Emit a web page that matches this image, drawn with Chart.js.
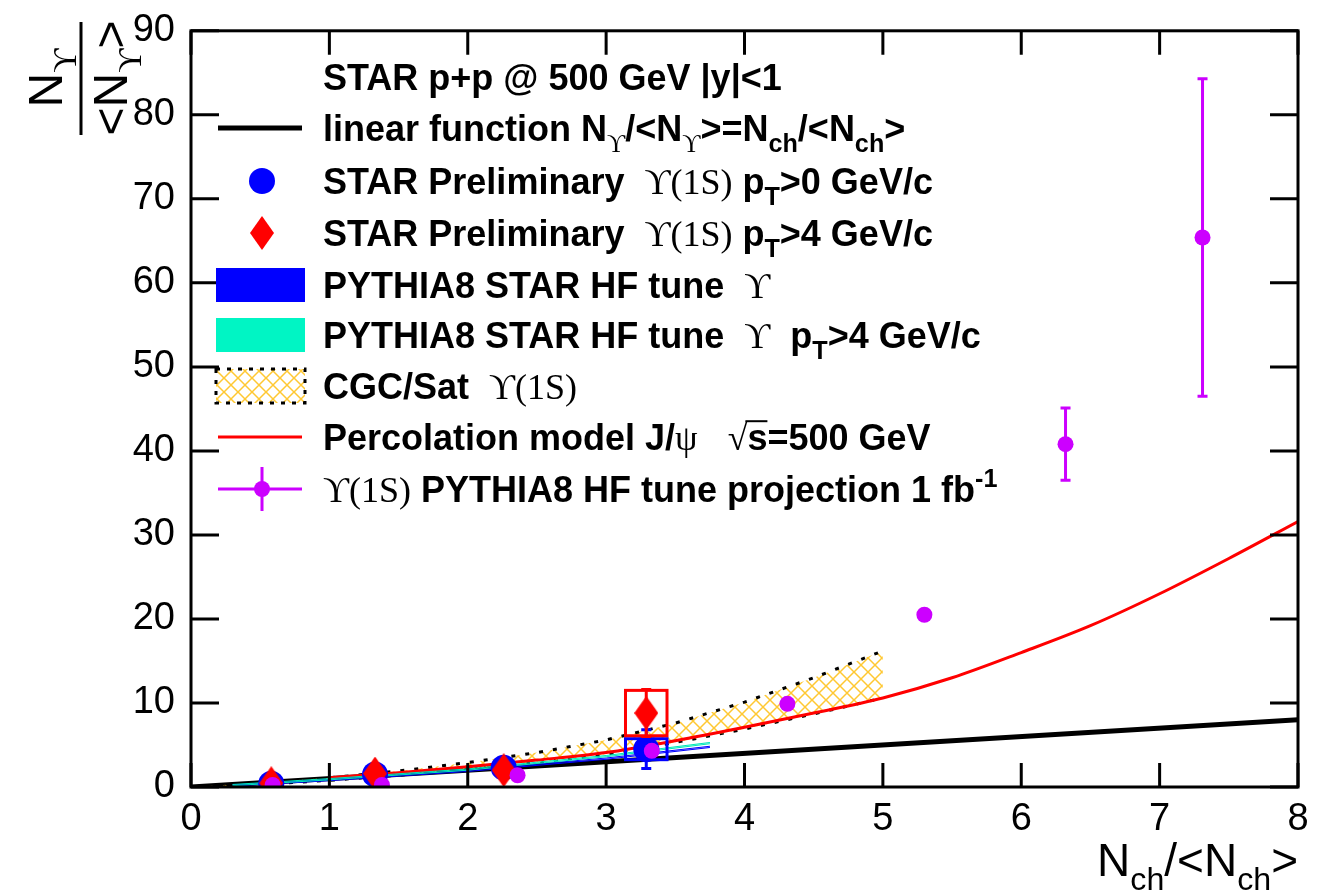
<!DOCTYPE html>
<html>
<head>
<meta charset="utf-8">
<script src="https://cdn.jsdelivr.net/npm/chart.js@4.4.0/dist/chart.umd.min.js"></script>
<style>
  html, body { margin: 0; background: #ffffff; }
  canvas { display: block; }
</style>
</head>
<body>
<canvas id="chart" width="1328" height="895"></canvas>
<script>
// axis ticks
const xTickValues = [0, 1, 2, 3, 4, 5, 6, 7, 8];
const yTickValues = [0, 10, 20, 30, 40, 50, 60, 70, 80, 90];

// linear function N/<N> = Nch/<Nch>
const linearX = [0, 8];
const linearY = [0, 8];

// CGC/Sat band
const cgcX = [0, 0.5, 1, 1.5, 2, 2.5, 3, 3.5, 4, 4.5, 5];
const cgcHigh = [0, 0.5, 1.1, 1.9, 2.9, 4.1, 5.6, 7.6, 10.1, 13.0, 16.2];
const cgcLow = [0, 0.3, 0.8, 1.4, 2.1, 2.9, 3.9, 5.3, 6.9, 8.7, 10.6];

// Percolation model
const percX = [1, 1.5, 2, 2.5, 3, 3.5, 4, 4.5, 5, 5.5, 6, 6.5, 7, 7.5, 8];
const percY = [1.1, 1.7, 2.4, 3.2, 4.1, 5.5, 7.1, 8.8, 10.6, 13.0, 16.0, 19.2, 23.0, 27.2, 31.6];

// PYTHIA8 bands
const pyX = [0.3, 1, 2, 3, 3.75];
const pyBlueHi = [0.25, 0.9, 2.0, 3.45, 4.85];
const pyBlueLo = [0.1, 0.75, 1.85, 3.3, 4.7];
const pyCyanHi = [0.3, 1.0, 2.15, 3.75, 5.3];
const pyCyanLo = [0.15, 0.85, 2.0, 3.6, 5.15];

// STAR preliminary data
const starX = [0.58, 1.33, 2.26, 3.29];
const blueY = [0.4, 1.5, 2.3, 4.5];
const blueErr = [0.2, 0.4, 0.5, 2.3];
const blueSys = [0, 0, 0, 1.25];
const redY = [0.45, 1.6, 2.0, 8.8];
const redErr = [0.3, 0.6, 0.9, 2.8];
const redSys = [0, 0, 0, 2.7];

// projection
const projX = [0.59, 1.38, 2.36, 3.33, 4.31, 5.30, 6.32, 7.31];
const projY = [0.25, 0.25, 1.4, 4.3, 9.9, 20.5, 40.8, 65.4];
const projErr = [0, 0, 0, 0, 0, 0, 4.3, 18.9];

const SANS = "'Liberation Sans', Arial, sans-serif";
const SERIF = "'Liberation Serif', 'DejaVu Serif', serif";

function pts(xs, ys) {
    return xs.map((x, i) => ({ x: x, y: ys[i] }));
}

function makeHatch() {
    const c = document.createElement('canvas');
    c.width = 14; c.height = 14;
    const g = c.getContext('2d');
    g.strokeStyle = '#ffc832';
    g.lineWidth = 1.5;
    g.beginPath();
    g.moveTo(0, 0); g.lineTo(14, 14);
    g.moveTo(14, 0); g.lineTo(0, 14);
    g.stroke();
    return g.createPattern(c, 'repeat');
}

function makeDiamond(w, h, color) {
    const c = document.createElement('canvas');
    c.width = w; c.height = h;
    const g = c.getContext('2d');
    g.fillStyle = color;
    g.beginPath();
    g.moveTo(w / 2, 0); g.lineTo(w, h / 2); g.lineTo(w / 2, h); g.lineTo(0, h / 2);
    g.closePath();
    g.fill();
    return c;
}

// rich text: parts with sub / sup / symbol font
function partFont(p, size, bold) {
    const s = (p.sub || p.sup) ? size * 0.7 : size;
    const fam = p.sym ? SERIF : SANS;
    return ((bold && !p.sym) ? 'bold ' : '') + s + 'px ' + fam;
}
function richWidth(ctx, parts, size, bold) {
    let w = 0;
    parts.forEach(p => { ctx.font = partFont(p, size, bold); w += ctx.measureText(p.t).width; });
    return w;
}
function drawRich(ctx, parts, x, y, size, bold) {
    parts.forEach(p => {
        ctx.font = partFont(p, size, bold);
        const dy = p.sub ? size * 0.3 : p.sup ? -size * 0.42 : 0;
        ctx.fillText(p.t, x, y + dy);
        const w = ctx.measureText(p.t).width;
        if (p.over) {
            ctx.lineWidth = 2;
            ctx.beginPath();
            ctx.moveTo(x - 2, y - size * 0.8);
            ctx.lineTo(x + w, y - size * 0.8);
            ctx.stroke();
        }
        x += w;
    });
    return x;
}

const hatch = makeHatch();
const diamondImg = makeDiamond(24, 34, '#ff0000');

const errorConfig = {
    'STAR pT>0': { x: starX, y: blueY, err: blueErr, sys: blueSys, color: '#0000ff' },
    'STAR pT>4': { x: starX, y: redY, err: redErr, sys: redSys, color: '#ff0000' },
    'projection': { x: projX, y: projY, err: projErr, sys: null, color: '#cc00ff' }
};

// error bars and systematic boxes, drawn right before their markers
const errorBars = {
    id: 'errorBars',
    beforeDatasetDraw(chart, args) {
        const cfg = errorConfig[chart.data.datasets[args.index].label];
        if (!cfg) return;
        const xs = chart.scales.x, ys = chart.scales.y, c = chart.ctx;
        c.save();
        c.strokeStyle = cfg.color;
        c.lineWidth = 3;
        cfg.x.forEach((xv, i) => {
            if (cfg.sys && cfg.sys[i] > 0) {
                const x0 = xs.getPixelForValue(xv - 0.15), x1 = xs.getPixelForValue(xv + 0.15);
                const y0 = ys.getPixelForValue(cfg.y[i] + cfg.sys[i]), y1 = ys.getPixelForValue(cfg.y[i] - cfg.sys[i]);
                c.strokeRect(x0, y0, x1 - x0, y1 - y0);
            }
            if (cfg.err[i] > 0) {
                const px = xs.getPixelForValue(xv);
                const top = ys.getPixelForValue(cfg.y[i] + cfg.err[i]);
                const bot = ys.getPixelForValue(cfg.y[i] - cfg.err[i]);
                c.beginPath();
                c.moveTo(px, top); c.lineTo(px, bot);
                c.moveTo(px - 5, top); c.lineTo(px + 5, top);
                c.moveTo(px - 5, bot); c.lineTo(px + 5, bot);
                c.stroke();
            }
        });
        c.restore();
    }
};

// ROOT-like frame with inward ticks, titles and legend
const frame = {
    id: 'frame',
    afterDraw(chart) {
        const c = chart.ctx, a = chart.chartArea;
        const xs = chart.scales.x, ys = chart.scales.y;
        c.save();
        c.strokeStyle = '#000';
        c.lineWidth = 3;
        c.strokeRect(a.left, a.top, a.right - a.left, a.bottom - a.top);
        c.beginPath();
        xTickValues.forEach(v => {
            const p = xs.getPixelForValue(v);
            c.moveTo(p, a.bottom); c.lineTo(p, a.bottom - 24);
            c.moveTo(p, a.top); c.lineTo(p, a.top + 24);
        });
        yTickValues.forEach(v => {
            const p = ys.getPixelForValue(v);
            c.moveTo(a.left, p); c.lineTo(a.left + 28, p);
            c.moveTo(a.right, p); c.lineTo(a.right - 28, p);
        });
        c.stroke();

        c.fillStyle = '#000';
        c.textBaseline = 'alphabetic';
        // x title
        const xt = [{ t: 'N' }, { t: 'ch', sub: 1 }, { t: '/<N' }, { t: 'ch', sub: 1 }, { t: '>' }];
        const xw = richWidth(c, xt, 46, false);
        drawRich(c, xt, a.right - xw, 876, 46, false);

        // y title as a fraction
        c.save();
        c.translate(81, 78);
        c.rotate(-Math.PI / 2);
        c.lineWidth = 3;
        c.beginPath(); c.moveTo(-57, 0); c.lineTo(56, 0); c.stroke();
        const num = [{ t: 'N' }, { t: 'ϒ', sub: 1, sym: 1 }];
        const den = [{ t: '<N' }, { t: 'ϒ', sub: 1, sym: 1 }, { t: '>' }];
        drawRich(c, num, -richWidth(c, num, 48, false) / 2, -19, 48, false);
        drawRich(c, den, -richWidth(c, den, 48, false) / 2, 46, 48, false);
        c.restore();

        // legend
        const rows = [77, 128, 181, 233, 285, 335, 386, 437, 489];
        const texts = [
            [{ t: 'STAR p+p @ 500 GeV |y|<1' }],
            [{ t: 'linear function N' }, { t: 'ϒ', sub: 1, sym: 1 }, { t: '/<N' }, { t: 'ϒ', sub: 1, sym: 1 }, { t: '>=N' }, { t: 'ch', sub: 1 }, { t: '/<N' }, { t: 'ch', sub: 1 }, { t: '>' }],
            [{ t: 'STAR Preliminary  ' }, { t: 'ϒ(1S)', sym: 1 }, { t: ' p' }, { t: 'T', sub: 1 }, { t: '>0 GeV/c' }],
            [{ t: 'STAR Preliminary  ' }, { t: 'ϒ(1S)', sym: 1 }, { t: ' p' }, { t: 'T', sub: 1 }, { t: '>4 GeV/c' }],
            [{ t: 'PYTHIA8 STAR HF tune  ' }, { t: 'ϒ', sym: 1 }],
            [{ t: 'PYTHIA8 STAR HF tune  ' }, { t: 'ϒ', sym: 1 }, { t: '  p' }, { t: 'T', sub: 1 }, { t: '>4 GeV/c' }],
            [{ t: 'CGC/Sat  ' }, { t: 'ϒ(1S)', sym: 1 }],
            [{ t: 'Percolation model J/' }, { t: 'ψ', sym: 1 }, { t: '   ' }, { t: '√', sym: 1 }, { t: 's', over: 1 }, { t: '=500 GeV' }],
            [{ t: 'ϒ(1S)', sym: 1 }, { t: ' PYTHIA8 HF tune projection 1 fb' }, { t: '-1', sup: 1 }]
        ];
        texts.forEach((t, i) => drawRich(c, t, 323, rows[i] + 13, 36, true));

        const sx = 262;
        // linear line
        c.strokeStyle = '#000'; c.lineWidth = 5;
        c.beginPath(); c.moveTo(218, rows[1]); c.lineTo(302, rows[1]); c.stroke();
        // blue circle
        c.fillStyle = '#0000ff';
        c.beginPath(); c.arc(sx, rows[2], 13, 0, Math.PI * 2); c.fill();
        // red diamond
        c.drawImage(diamondImg, sx - 12, rows[3] - 17);
        // PYTHIA boxes
        c.fillStyle = '#0000ff';
        c.fillRect(216, rows[4] - 17, 89, 34);
        c.fillStyle = '#00f5c4';
        c.fillRect(216, rows[5] - 17, 89, 34);
        // CGC hatched box
        c.fillStyle = hatch;
        c.fillRect(216, rows[6] - 17, 89, 34);
        c.setLineDash([4, 7]);
        c.lineWidth = 3; c.strokeStyle = '#000';
        c.strokeRect(216, rows[6] - 17, 89, 34);
        c.setLineDash([]);
        // percolation line
        c.strokeStyle = '#ff0000'; c.lineWidth = 3;
        c.beginPath(); c.moveTo(218, rows[7]); c.lineTo(302, rows[7]); c.stroke();
        // projection marker
        c.strokeStyle = '#cc00ff'; c.fillStyle = '#cc00ff';
        c.beginPath();
        c.moveTo(218, rows[8]); c.lineTo(302, rows[8]);
        c.moveTo(sx, rows[8] - 22); c.lineTo(sx, rows[8] + 22);
        c.stroke();
        c.beginPath(); c.arc(sx, rows[8], 8, 0, Math.PI * 2); c.fill();
        c.restore();
    }
};

const lineDefaults = { pointRadius: 0, fill: false, tension: 0 };

new Chart(document.getElementById('chart').getContext('2d'), {
    type: 'line',
    data: {
        datasets: [
            Object.assign({}, lineDefaults, { label: 'linear', data: pts(linearX, linearY), borderColor: '#000000', borderWidth: 5, order: 9 }),
            Object.assign({}, lineDefaults, { label: 'cgcHigh', data: pts(cgcX, cgcHigh), borderColor: '#000000', borderWidth: 3, borderDash: [4, 10], backgroundColor: hatch, fill: '+1', order: 8 }),
            Object.assign({}, lineDefaults, { label: 'cgcLow', data: pts(cgcX, cgcLow), borderColor: '#000000', borderWidth: 3, borderDash: [4, 10], order: 8 }),
            Object.assign({}, lineDefaults, { label: 'percolation', data: pts(percX, percY), borderColor: '#ff0000', borderWidth: 3, cubicInterpolationMode: 'monotone', order: 7 }),
            Object.assign({}, lineDefaults, { label: 'pyBlueHi', data: pts(pyX, pyBlueHi), borderColor: '#0000ff', borderWidth: 1, backgroundColor: 'rgba(0,0,255,0.25)', fill: '+1', order: 6 }),
            Object.assign({}, lineDefaults, { label: 'pyBlueLo', data: pts(pyX, pyBlueLo), borderColor: '#0000ff', borderWidth: 1, order: 6 }),
            Object.assign({}, lineDefaults, { label: 'pyCyanHi', data: pts(pyX, pyCyanHi), borderColor: '#00e6b8', borderWidth: 1, backgroundColor: 'rgba(0,245,196,0.25)', fill: '+1', order: 5 }),
            Object.assign({}, lineDefaults, { label: 'pyCyanLo', data: pts(pyX, pyCyanLo), borderColor: '#00e6b8', borderWidth: 1, order: 5 }),
            { label: 'STAR pT>0', data: pts(starX, blueY), showLine: false, pointRadius: 13, pointBorderWidth: 0, pointBackgroundColor: '#0000ff', pointBorderColor: '#0000ff', order: 3 },
            { label: 'STAR pT>4', data: pts(starX, redY), showLine: false, pointStyle: diamondImg, order: 2 },
            { label: 'projection', data: pts(projX, projY), showLine: false, pointRadius: 8, pointBorderWidth: 0, pointBackgroundColor: '#cc00ff', pointBorderColor: '#cc00ff', order: 1 }
        ]
    },
    options: {
        responsive: false,
        animation: false,
        events: [],
        layout: { padding: { top: 22, right: 30, left: 0, bottom: 0 } },
        plugins: { legend: { display: false }, tooltip: { enabled: false } },
        scales: {
            x: {
                type: 'linear', min: 0, max: 8,
                grid: { display: false }, border: { display: false },
                afterBuildTicks: s => { s.ticks = xTickValues.map(v => ({ value: v })); },
                afterFit: s => { s.height = 108; },
                ticks: { color: '#000', padding: 2, maxRotation: 0, font: { family: SANS, size: 38 } }
            },
            y: {
                type: 'linear', min: 0, max: 90,
                grid: { display: false }, border: { display: false },
                afterBuildTicks: s => { s.ticks = yTickValues.map(v => ({ value: v })); },
                afterFit: s => { s.width = 191; },
                ticks: { color: '#000', padding: 8, font: { family: SANS, size: 38 } }
            }
        }
    },
    plugins: [errorBars, frame]
});
</script>
</body>
</html>
